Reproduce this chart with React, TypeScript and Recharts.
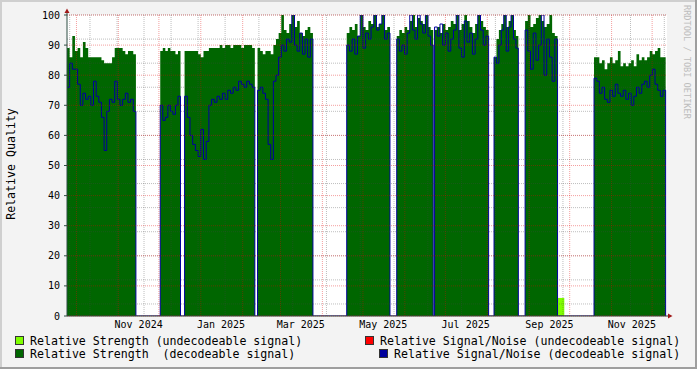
import { ComposedChart, Area, Line, XAxis, YAxis, CartesianGrid } from "recharts";

const FONT = '"DejaVu Sans Mono", monospace';
const START = Date.UTC(2024, 8, 24);
const dayOf = (y: number, m: number, d: number) => (Date.UTC(y, m - 1, d) - START) / 864e5;
const END_DAY = 444;

const monthNames = ["Jan", "Feb", "Mar", "Apr", "May", "Jun", "Jul", "Aug", "Sep", "Oct", "Nov", "Dec"];
// every month start gets a red grid line, every second month a label
const gridMonths: [number, number][] = [
  [2024, 10], [2024, 11], [2024, 12], [2025, 1], [2025, 2], [2025, 3], [2025, 4], [2025, 5],
  [2025, 6], [2025, 7], [2025, 8], [2025, 9], [2025, 10], [2025, 11], [2025, 12],
];
const labelMonths: [number, number][] = [
  [2024, 11], [2025, 1], [2025, 3], [2025, 5], [2025, 7], [2025, 9], [2025, 11],
];

// receiver up-time blocks (day index from 24 Sep 2024)
const segStart = [0, 69, 87, 141, 207, 244, 272, 316, 339, 390];
const segEnd = [51, 84, 139, 182, 239, 271, 312, 334, 363, 443];

const strength = [
  [89, 86, 93, 88, 89, 86, 91, 89, 86, 86, 86, 86, 86, 85, 84, 84, 84, 86, 89, 89, 89, 88, 87, 88, 88, 87],
  [88, 89, 88, 89, 88, 88, 87, 88],
  [88, 88, 88, 88, 88, 87, 86, 88, 88, 89, 89, 89, 89, 90, 89, 90, 90, 89, 90, 90, 90, 89, 90, 90, 90, 89],
  [89, 88, 87, 88, 88, 87, 90, 92, 94, 100, 95, 94, 97, 100, 96, 98, 94, 93, 95, 96, 94],
  [94, 96, 95, 97, 93, 100, 96, 95, 98, 97, 100, 96, 97, 100, 95, 96],
  [93, 95, 94, 96, 95, 98, 100, 96, 99, 98, 97, 100, 96, 95],
  [95, 96, 94, 97, 95, 96, 98, 97, 100, 95, 97, 100, 98, 96, 94, 97, 100, 98, 96, 95],
  [86, 92, 95, 97, 100, 96, 98, 100, 95, 93],
  [98, 100, 96, 97, 99, 100, 98, 96, 97, 100, 94, 93],
  [86, 86, 84, 85, 82, 84, 86, 84, 85, 88, 83, 84, 83, 84, 85, 83, 87, 85, 86, 85, 86, 88, 87, 88, 89, 86, 86],
];

const snr = [
  [76, 84, 82, 82, 77, 70, 74, 72, 73, 70, 78, 73, 71, 66, 55, 68, 72, 71, 78, 72, 70, 72, 74, 71, 72, 68],
  [70, 65, 66, 70, 68, 67, 70, 73],
  [73, 66, 60, 57, 55, 53, 62, 52, 58, 70, 72, 71, 73, 72, 74, 72, 75, 74, 76, 75, 78, 77, 76, 78, 77, 76],
  [75, 76, 74, 72, 57, 52, 78, 80, 86, 90, 88, 92, 91, 100, 90, 88, 94, 87, 92, 86, 92],
  [90, 88, 92, 87, 93, 100, 89, 94, 92, 96, 100, 95, 97, 100, 92, 94],
  [92, 88, 90, 87, 94, 100, 95, 92, 100, 97, 94, 100, 93, 90],
  [96, 93, 97, 90, 94, 88, 92, 95, 100, 89, 86, 98, 91, 94, 87, 92, 100, 95, 90, 93],
  [86, 84, 90, 95, 100, 88, 96, 100, 92, 89],
  [95, 88, 82, 94, 85, 90, 100, 80, 92, 86, 78, 92],
  [79, 78, 74, 76, 72, 71, 75, 73, 77, 74, 73, 75, 72, 74, 70, 73, 76, 74, 77, 78, 76, 80, 82, 77, 75, 73, 75],
];

const undecStart = [363];
const undecEnd = [368];
const undecValue = [6];

type Row = { t: number; str: number | null; snr: number | null; und: number | null };

function buildRows(): Row[] {
  const rows: Row[] = [];
  segStart.forEach((s, i) => {
    const e = segEnd[i];
    const g = strength[i];
    const b = snr[i];
    const step = (e - s) / g.length;
    g.forEach((v, k) => rows.push({ t: s + k * step, str: v, snr: b[k], und: null }));
    rows.push({ t: e, str: g[g.length - 1], snr: 0, und: null });
    if (i + 1 < segStart.length) rows.push({ t: (e + segStart[i + 1]) / 2, str: null, snr: 0, und: null });
  });
  undecStart.forEach((s, i) => {
    rows.push({ t: s, str: null, snr: 0, und: undecValue[i] });
    rows.push({ t: undecEnd[i], str: null, snr: 0, und: undecValue[i] });
  });
  return rows.sort((a, b) => a.t - b.t);
}

const data = buildRows();
const labelDays = labelMonths.map(([y, m]) => dayOf(y, m, 16));
const majorV = gridMonths.map(([y, m]) => dayOf(y, m, 1));
const minorV: number[] = [];
for (let d = 2; d < END_DAY; d += 5) minorV.push(d);
const majorH = [0, 10, 20, 30, 40, 50, 60, 70, 80, 90, 100];
const minorH: number[] = [];
for (let v = 0; v <= 100; v += 2) minorH.push(v);

const fmtTick = (v: number) => {
  const i = labelDays.indexOf(v);
  if (i < 0) return "";
  const [y, m] = labelMonths[i];
  return `${monthNames[m - 1]} ${y}`;
};

const legend = [
  { x: 15, y: 336, tx: 30, color: "#7fff00", text: "Relative Strength (undecodeable signal)" },
  { x: 15, y: 349, tx: 30, color: "#006600", text: "Relative Strength  (decodeable signal)" },
  { x: 365, y: 336, tx: 380, color: "#ff0000", text: "Relative Signal/Noise (undecodeable signal)" },
  { x: 379, y: 349, tx: 394, color: "#00009c", text: "Relative Signal/Noise (decodeable signal)" },
];

const MARGIN = { top: 15, right: 30, bottom: 33, left: 0 };

// rrdtool paints its grid over the graph, so the grid lives in a second, transparent chart on top
function GridOverlay() {
  return (
    <ComposedChart width={697} height={369} data={data} margin={{ top: 15, right: 30, bottom: 53, left: 67 }}>
      <XAxis dataKey="t" type="number" domain={[0, END_DAY]} allowDataOverflow hide />
      <YAxis type="number" domain={[0, 100]} allowDataOverflow hide />
      <CartesianGrid horizontalValues={minorH} verticalValues={minorV} stroke="rgba(70,70,70,0.35)" strokeDasharray="1 1" />
      <CartesianGrid horizontalValues={majorH} verticalValues={majorV} stroke="rgba(225,0,0,0.38)" strokeDasharray="1 1" />
    </ComposedChart>
  );
}

export default function App() {
  return (
    <div style={{ position: "absolute", left: 0, top: 0, width: 697, height: 369, background: "#f3f3f3", fontFamily: FONT }}>
      <div style={{ position: "absolute", left: 67, top: 15, width: 600, height: 301, background: "#fff" }} />
      <div style={{ position: "absolute", left: 0, top: 0 }}>
        <ComposedChart width={697} height={369} data={data} margin={MARGIN}>
          <XAxis
            dataKey="t"
            type="number"
            domain={[0, END_DAY]}
            allowDataOverflow
            ticks={labelDays}
            tickFormatter={fmtTick}
            tickLine={false}
            tickSize={0}
            tickMargin={5}
            height={20}
            axisLine={{ stroke: "#2c4d43" }}
            tick={{ fill: "#000", fontSize: 10, fontFamily: FONT }}
          />
          <YAxis
            type="number"
            domain={[0, 100]}
            allowDataOverflow
            ticks={majorH}
            width={67}
            tickSize={3}
            tickMargin={4}
            axisLine={{ stroke: "#2c4d43" }}
            tickLine={{ stroke: "#2c4d43" }}
            tick={{ fill: "#000", fontSize: 10, fontFamily: FONT }}
          />
          <Area type="stepAfter" dataKey="und" stroke="none" fill="#7fff00" fillOpacity={1} isAnimationActive={false} />
          <Area type="stepAfter" dataKey="str" stroke="none" fill="#006600" fillOpacity={1} isAnimationActive={false} />
          <Line type="stepAfter" dataKey="snr" stroke="#00009c" strokeWidth={1} dot={false} isAnimationActive={false} />
        </ComposedChart>
      </div>
      <div style={{ position: "absolute", left: 0, top: 0, pointerEvents: "none" }}>
        <GridOverlay />
      </div>
      <svg width={697} height={369} style={{ position: "absolute", left: 0, top: 0, pointerEvents: "none" }}>
        <line x1={67} y1={15} x2={67} y2={12} stroke="#2c4d43" />
        <polygon points="64.5,13 69.5,13 67,8.5" fill="#a01818" />
        <line x1={667} y1={316} x2={669} y2={316} stroke="#2c4d43" />
        <polygon points="668,313.5 668,318.5 672.5,316" fill="#a01818" />
        <text x={15} y={164} transform="rotate(-90 15 164)" textAnchor="middle" fontSize={11.6} fontFamily={FONT} fill="#000">
          Relative Quality
        </text>
        <text x={684} y={5} transform="rotate(90 684 5)" fontSize={8.6} fontFamily={FONT} fill="#bdbdbd">
          RRDTOOL / TOBI OETIKER
        </text>
        {legend.map((l) => (
          <g key={l.text}>
            <rect x={l.x + 0.5} y={l.y + 0.5} width={8} height={8} fill={l.color} stroke="#333" strokeWidth={1} />
            <text x={l.tx} y={l.y + 9} fontSize={11.6} fontFamily={FONT} fill="#000" style={{ whiteSpace: "pre" }}>
              {l.text}
            </text>
          </g>
        ))}
        <line x1={0} y1={1} x2={697} y2={1} stroke="#cfcfcf" strokeWidth={2} />
        <line x1={1} y1={0} x2={1} y2={369} stroke="#cfcfcf" strokeWidth={2} />
        <line x1={696} y1={0} x2={696} y2={369} stroke="#9e9e9e" strokeWidth={2} />
        <line x1={0} y1={368} x2={697} y2={368} stroke="#9e9e9e" strokeWidth={2} />
      </svg>
    </div>
  );
}
